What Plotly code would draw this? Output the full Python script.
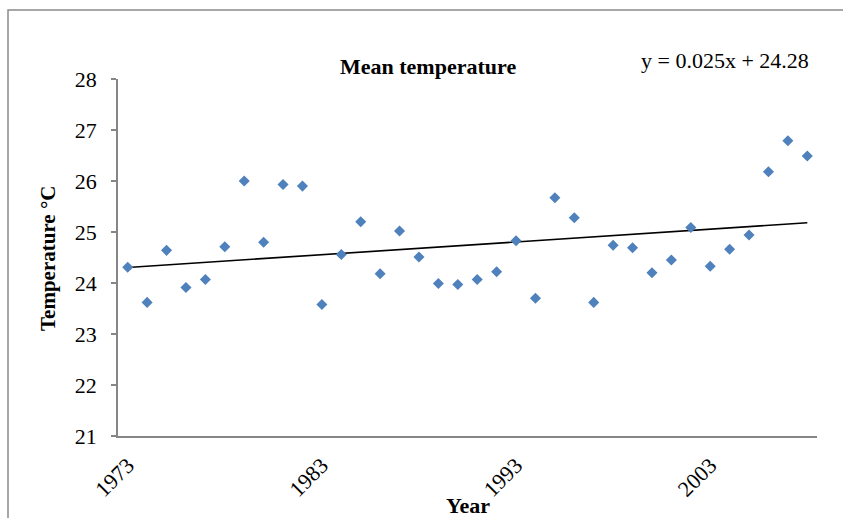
import plotly.graph_objects as go

# Annual mean temperature, 1973-2008
years = list(range(1973, 2009))
mean_temp = [
    24.31, 23.62, 24.64, 23.91, 24.07, 24.71, 26.00, 24.80, 25.93, 25.90,
    23.58, 24.56, 25.20, 24.18, 25.02, 24.51, 23.99, 23.97, 24.07, 24.22,
    24.83, 23.70, 25.67, 25.28, 23.62, 24.74, 24.69, 24.20, 24.45, 25.09,
    24.33, 24.66, 24.94, 26.18, 26.79, 26.49,
]
x_tick_years = [1973, 1983, 1993, 2003]

# Linear trend y = slope * n + intercept, with n = 1..36 the year index
slope = 0.025
intercept = 24.28
trend_x = [years[0], years[-1]]
trend_y = [slope * 1 + intercept, slope * len(years) + intercept]

W, H = 843, 518
L, R, T, B = 118, 26, 79, 82
FONT = "Liberation Serif, Times New Roman, serif"
AXIS_GREY = "#868686"


def px(x):
    return (x - L) / (W - L - R)


def py(y):
    return (H - B - y) / (H - T - B)


fig = go.Figure()

fig.add_trace(go.Scatter(
    x=trend_x, y=trend_y, mode="lines",
    line=dict(color="black", width=1.6),
    showlegend=False, hoverinfo="skip",
))

fig.add_trace(go.Scatter(
    x=years, y=mean_temp, mode="markers",
    marker=dict(symbol="diamond", size=8.5, color="#4F81BD",
                line=dict(width=0)),
    showlegend=False,
))

fig.update_layout(
    width=W, height=H,
    margin=dict(l=L, r=R, t=T, b=B),
    paper_bgcolor="white", plot_bgcolor="white",
    font=dict(family=FONT, color="black", size=22),
    xaxis=dict(
        range=[years[0] - 0.5, years[-1] + 0.5],
        tickvals=x_tick_years,
        ticktext=[str(y) for y in x_tick_years],
        tickangle=-45,
        ticks="",
        ticklabelstandoff=6,
        automargin=False,
        showline=True, linecolor=AXIS_GREY, linewidth=1.5,
        showgrid=False, zeroline=False,
        tickfont=dict(family=FONT, size=22),
    ),
    yaxis=dict(
        range=[21, 28], dtick=1,
        ticks="outside", ticklen=5, tickcolor=AXIS_GREY, tickwidth=1.5,
        showline=True, linecolor=AXIS_GREY, linewidth=1.5,
        showgrid=False, zeroline=False,
        ticklabelstandoff=10,
        automargin=False,
        tickfont=dict(family=FONT, size=22),
    ),
    shapes=[dict(
        type="rect", xref="paper", yref="paper",
        x0=px(8), x1=px(W + 20), y0=py(H + 20), y1=py(10),
        line=dict(color="#8a8a8a", width=1.5), fillcolor="rgba(0,0,0,0)",
        layer="below",
    )],
    annotations=[
        dict(text="<b>Mean temperature</b>", xref="paper", yref="paper",
             x=px(428), y=py(67), xanchor="center", yanchor="middle",
             showarrow=False, font=dict(family=FONT, size=22)),
        dict(text="y = 0.025x + 24.28", xref="paper", yref="paper",
             x=px(725), y=py(61), xanchor="center", yanchor="middle",
             showarrow=False, font=dict(family=FONT, size=22)),
        dict(text="<b>Year</b>", xref="paper", yref="paper",
             x=px(468), y=py(505), xanchor="center", yanchor="middle",
             showarrow=False, font=dict(family=FONT, size=22)),
        dict(text="<b>Temperature °C</b>", xref="paper", yref="paper",
             x=px(48), y=py(259), xanchor="center", yanchor="middle",
             textangle=-90, showarrow=False, font=dict(family=FONT, size=21)),
    ],
)

fig.write_html("out.html")
